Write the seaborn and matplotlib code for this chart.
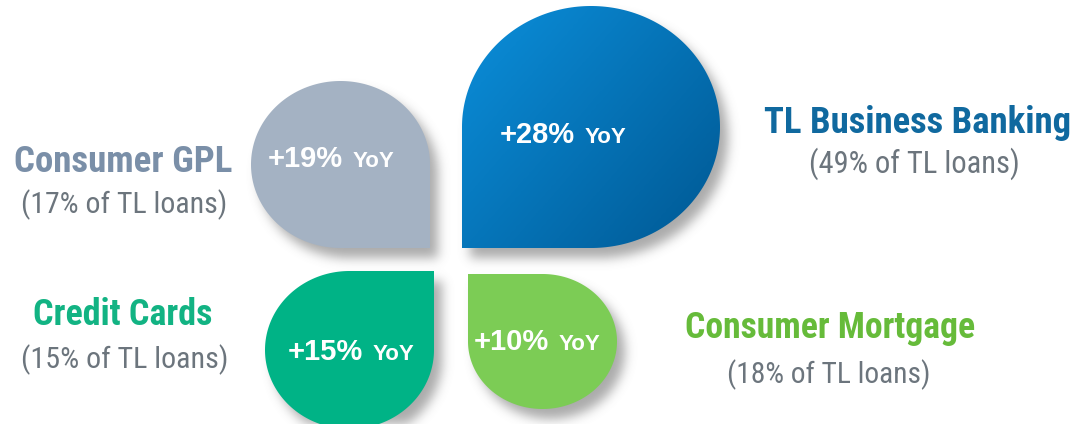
import numpy as np
import matplotlib
matplotlib.use("Agg")
import matplotlib.pyplot as plt
import seaborn as sns
from matplotlib.path import Path
from matplotlib.patches import PathPatch
from matplotlib import font_manager

# ---------------- data ----------------
categories = ["Consumer GPL", "TL Business Banking", "Credit Cards", "Consumer Mortgage"]
share_of_tl_loans = [17, 49, 15, 18]      # % of TL loans
yoy_growth = [19, 28, 15, 10]             # % YoY growth

# ---------------- layout / style (pixels, y downwards) ----------------
W, H = 1077, 424
leaf_boxes = [(251, 430, 81, 248), (462, 720, 6, 248), (265, 434, 271, 429), (468, 617, 274, 409)]
square_corner = ["br", "bl", "tr", "tl"]
leaf_colors = ["#a4b2c3", None, "#00b386", "#7ccc55"]
blue_grad = ["#0b8fdb", "#005893"]
title_colors = ["#7a8fa8", "#10699f", "#12b383", "#66bb3a"]
sub_color = "#6c757d"
title_pos = [(123.5, 172), (917.5, 133), (123, 325), (830, 338)]
title_width = [219, 309, 180, 290]
sub_pos = [(124, 213), (914, 173), (124.5, 368), (829, 383)]
sub_width = [206, 212, 207, 204]
yoy_pos = [(331, 167), (563, 143), (351, 360), (537, 350)]

sns.set_theme(style="white")
fonts = font_manager.fontManager.ttflist
names = {f.name for f in fonts}
title_font = dict(family=["Liberation Sans", "DejaVu Sans"], fontstretch="normal")
for cand in ["Liberation Sans Narrow", "Arial Narrow", "Roboto Condensed", "Open Sans Condensed"]:
    if cand in names:
        title_font = dict(family=[cand, "DejaVu Sans"], fontstretch="normal")
        break
else:
    if any(f.name == "DejaVu Sans" and f.stretch == "condensed" and f.weight in (700, "bold") for f in fonts):
        title_font = dict(family=["DejaVu Sans"], fontstretch="condensed")
plt.rcParams["font.family"] = ["Liberation Sans", "DejaVu Sans"]

fig = plt.figure(figsize=(W / 100, H / 100), dpi=100)
fig.patch.set_facecolor("white")
ax = fig.add_axes([0, 0, 1, 1])
ax.set_xlim(0, W)
ax.set_ylim(H, 0)
ax.axis("off")


def leaf_path(box, corner, dx=0.0, dy=0.0):
    x0, x1, y0, y1 = box
    cx, cy = (x0 + x1) / 2 + dx, (y0 + y1) / 2 + dy
    rx, ry = (x1 - x0) / 2, (y1 - y0) / 2
    q = {"br": 0, "bl": 90, "tl": 180, "tr": 270}[corner]
    t = np.deg2rad(np.linspace(q + 90, q + 360, 200))
    pts = np.column_stack([cx + rx * np.cos(t), cy + ry * np.sin(t)])
    cxp = {"br": x1, "tr": x1, "bl": x0, "tl": x0}[corner] + dx
    cyp = {"br": y1, "bl": y1, "tr": y0, "tl": y0}[corner] + dy
    verts = np.vstack([pts, [[cxp, cyp]], pts[:1]])
    codes = [Path.MOVETO] + [Path.LINETO] * (len(verts) - 2) + [Path.CLOSEPOLY]
    return Path(verts, codes)


# ---- soft drop shadow ----
gx, gy = np.meshgrid(np.arange(W) + 0.5, np.arange(H) + 0.5)
grid = np.column_stack([gx.ravel(), gy.ravel()])
mask = np.zeros(H * W)
for box, corner in zip(leaf_boxes, square_corner):
    mask = np.maximum(mask, leaf_path(box, corner, 8, 10).contains_points(grid).astype(float))
mask = mask.reshape(H, W)
sigma = 5.5
k = np.arange(-16, 17)
kern = np.exp(-k ** 2 / (2 * sigma ** 2))
kern /= kern.sum()
pad = np.pad(mask, 16, mode="constant")
tmp = sum(w * np.roll(pad, s, axis=0) for s, w in zip(k, kern))
blur = sum(w * np.roll(tmp, s, axis=1) for s, w in zip(k, kern))[16:-16, 16:-16]
shadow = np.zeros((H, W, 4))
shadow[..., :3] = 0.40
shadow[..., 3] = blur * 0.55
ax.imshow(shadow, extent=(0, W, H, 0), origin="upper", zorder=1, interpolation="bilinear")

# ---- leaves ----
grad_cmap = sns.blend_palette(blue_grad, n_colors=256, as_cmap=True)
for i, (box, corner) in enumerate(zip(leaf_boxes, square_corner)):
    p = leaf_path(box, corner)
    if leaf_colors[i] is None:
        patch = PathPatch(p, facecolor="none", edgecolor="none", zorder=2)
        ax.add_patch(patch)
        x0, x1, y0, y1 = box
        u, v = np.meshgrid(np.linspace(0, 1, 200), np.linspace(0, 1, 200))
        g = 0.55 * u + 0.45 * v
        im = ax.imshow(g, cmap=grad_cmap, extent=(x0, x1, y1, y0), origin="upper",
                       zorder=2, vmin=0, vmax=1)
        im.set_clip_path(patch)
    else:
        ax.add_patch(PathPatch(p, facecolor=leaf_colors[i], edgecolor="none", zorder=2))

renderer = fig.canvas.get_renderer()

# ---- labels ----
for i, cat in enumerate(categories):
    t = ax.text(*title_pos[i], cat, ha="center", va="baseline", fontsize=26,
                fontweight="bold", color=title_colors[i], zorder=5, **title_font)
    wpx = t.get_window_extent(renderer).width
    t.set_fontsize(26 * title_width[i] / wpx)
    s = ax.text(*sub_pos[i], f"({share_of_tl_loans[i]}% of TL loans)", ha="center", va="baseline",
                fontsize=20, color=sub_color, zorder=5, **title_font)
    wpx = s.get_window_extent(renderer).width
    s.set_fontsize(min(22.0, 20 * sub_width[i] / wpx))

for i, g in enumerate(yoy_growth):
    cx, base = yoy_pos[i]
    t1 = ax.text(0, base, f"+{g}%", ha="left", va="baseline", fontsize=21, fontweight="bold",
                 color="white", zorder=6)
    t2 = ax.text(0, base, "YoY", ha="left", va="baseline", fontsize=16, fontweight="bold",
                 color="white", zorder=6)
    w1 = t1.get_window_extent(renderer).width
    w2 = t2.get_window_extent(renderer).width
    gap = 9
    left = cx - (w1 + gap + w2) / 2
    t1.set_x(left)
    t2.set_x(left + w1 + gap)

fig.savefig("out.png", dpi=100, facecolor="white")
